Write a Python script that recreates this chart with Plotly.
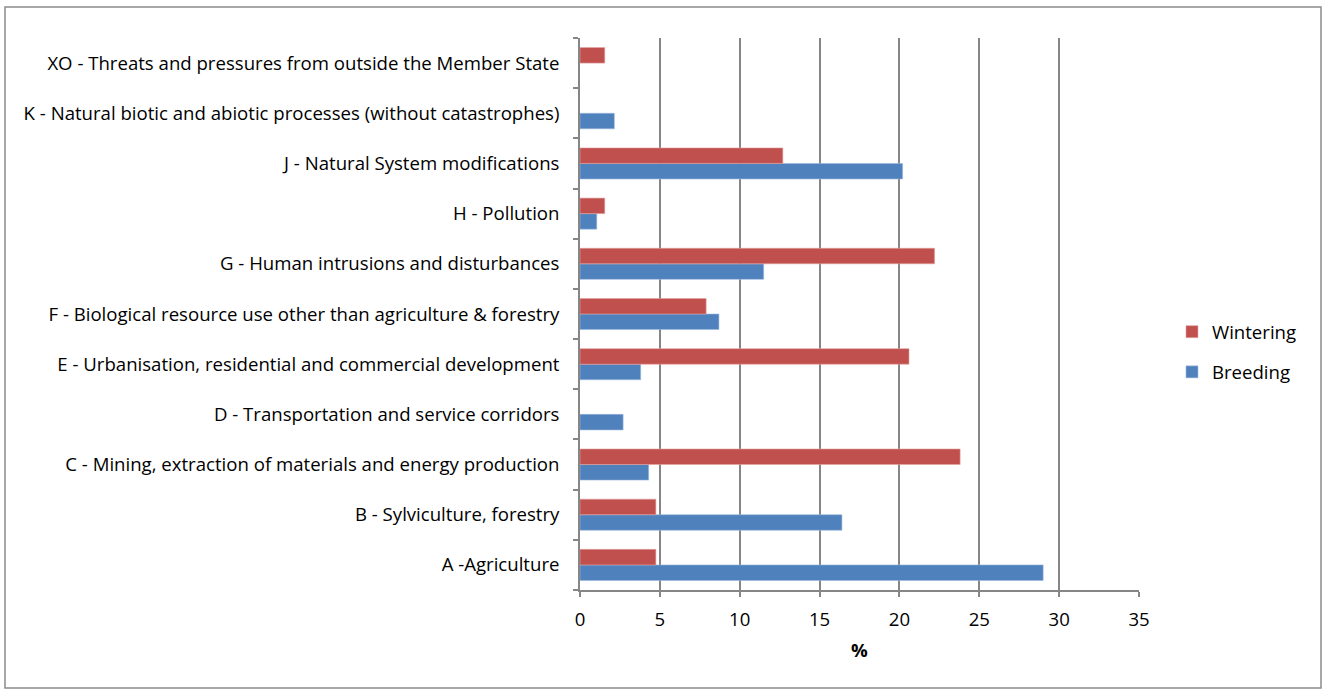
import plotly.graph_objects as go

categories = [
    "A -Agriculture",
    "B - Sylviculture, forestry",
    "C - Mining, extraction of materials and energy production",
    "D - Transportation and service corridors",
    "E - Urbanisation, residential and commercial development",
    "F - Biological resource use other than agriculture & forestry",
    "G - Human intrusions and disturbances",
    "H - Pollution",
    "J - Natural System modifications",
    "K - Natural biotic and abiotic processes (without catastrophes)",
    "XO - Threats and pressures from outside the Member State",
]
breeding = [29.0, 16.4, 4.3, 2.7, 3.8, 8.7, 11.5, 1.05, 20.2, 2.15, None]
wintering = [4.75, 4.75, 23.8, None, 20.6, 7.9, 22.2, 1.55, 12.7, None, 1.55]

FONT = "Open Sans"
FS = 18.6
GRID = "#868686"

fig = go.Figure()
fig.add_trace(go.Bar(
    y=categories, x=breeding, orientation="h", name="Breeding",
    marker=dict(color="#4F81BD", line=dict(color="#9DB9DE", width=0.6)),
    legendgroup="b", legendrank=2,
))
fig.add_trace(go.Bar(
    y=categories, x=wintering, orientation="h", name="Wintering",
    marker=dict(color="#C0504D", line=dict(color="#E2A3A1", width=0.6)),
    legendgroup="w", legendrank=1,
))

fig.update_layout(
    width=1329, height=695,
    margin=dict(l=580, r=190, t=38, b=105),
    paper_bgcolor="white", plot_bgcolor="white",
    barmode="group", bargap=0.38, bargroupgap=0,
    font=dict(family=FONT, size=FS, color="#000000"),
    showlegend=True,
    legend=dict(
        traceorder="grouped", x=1.059, y=0.431, xanchor="left", yanchor="middle",
        font=dict(family=FONT, size=FS), tracegroupgap=13,
        bgcolor="rgba(0,0,0,0)",
    ),
    xaxis=dict(
        range=[0, 35], dtick=5, tick0=0, showgrid=True, gridcolor=GRID, gridwidth=1.7,
        zeroline=False, showline=True, linecolor=GRID, linewidth=1.7,
        ticks="outside", ticklen=5, tickcolor=GRID, tickwidth=1.7, ticklabelstandoff=7,
        tickfont=dict(family=FONT, size=FS),
        title=dict(text="<b>%</b>", font=dict(family=FONT, size=FS), standoff=14),
        fixedrange=True,
    ),
    yaxis=dict(
        type="category", categoryorder="array", categoryarray=categories,
        showline=True, linecolor=GRID, linewidth=1.7, showgrid=False,
        ticks="outside", ticklen=5, tickcolor=GRID, tickwidth=1.7, tickson="boundaries",
        ticklabelstandoff=15,
        tickfont=dict(family=FONT, size=FS),
        fixedrange=True,
    ),
    shapes=[dict(
        type="rect", xref="paper", yref="paper",
        xsizemode="pixel", ysizemode="pixel", xanchor=0, yanchor=0,
        x0=-575, x1=741, y0=-98, y1=583,
        line=dict(color="#8C8C8C", width=1.5), fillcolor="rgba(0,0,0,0)", layer="below",
    )],
)

fig.write_html("out.html")
